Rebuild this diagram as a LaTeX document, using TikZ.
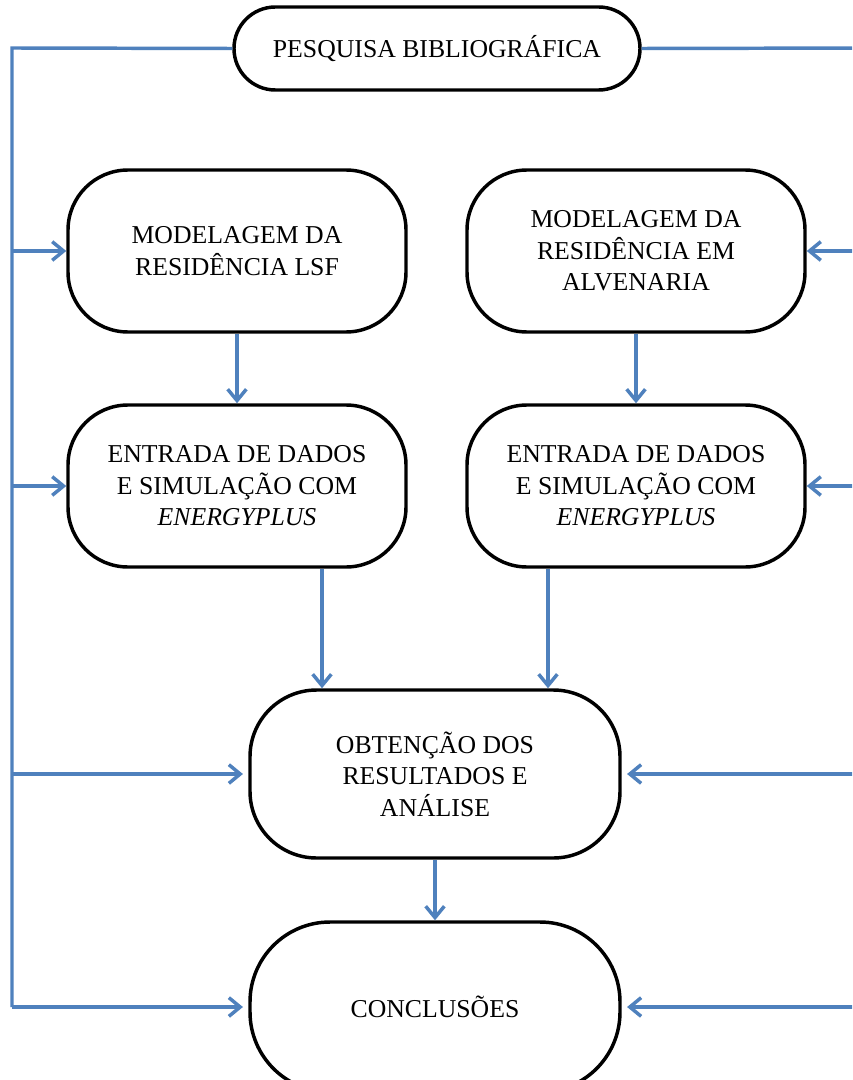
\documentclass[tikz,border=0pt]{standalone}
\usepackage{fontspec}
\setmainfont{Liberation Serif}
\usetikzlibrary{arrows.meta,calc}
\definecolor{flow}{RGB}{79,129,189}
\tikzset{
  box/.style={draw=black, line width=2.6pt, fill=white, align=center,
    font=\fontsize{19.3}{23.6}\selectfont, inner sep=0pt},
  stepbox/.style={box, minimum width=253.5pt, minimum height=121.5pt, rounded corners=45pt},
  bigbox/.style={box, minimum width=277.5pt, minimum height=126pt, rounded corners=50pt},
  endbox/.style={box, minimum width=277.5pt, minimum height=127.5pt, rounded corners=60pt},
  topbox/.style={box, minimum width=304.5pt, minimum height=62.25pt, rounded corners=31pt},
  link/.style={draw=flow, line width=2.6pt},
  arr/.style={link, -{Straight Barb[length=8.5pt,width=14pt]}}
}
\begin{document}
\begin{tikzpicture}[x=0.75pt,y=-0.75pt]
\useasboundingbox (0,0) rectangle (852,1080);
\clip (0,0) rectangle (852,1080);
\fill[white] (0,0) rectangle (852,1080);

\node[topbox] (top) at (437,48.5) {PESQUISA BIBLIOGRÁFICA};
\node[stepbox] (b1) at (237,251) {MODELAGEM DA\\RESIDÊNCIA LSF};
\node[stepbox] (b2) at (636,251) {MODELAGEM DA\\RESIDÊNCIA EM\\ALVENARIA};
\node[stepbox] (b3) at (237,486) {ENTRADA DE DADOS\\E SIMULAÇÃO COM\\\textit{ENERGYPLUS}};
\node[stepbox] (b4) at (636,486) {ENTRADA DE DADOS\\E SIMULAÇÃO COM\\\textit{ENERGYPLUS}};
\node[bigbox] (b5) at (435,774) {OBTENÇÃO DOS\\RESULTADOS E\\ANÁLISE};
\node[endbox] (b6) at (435,1007) {CONCLUSÕES};

\coordinate (L) at (12,48);
\coordinate (R) at (875,48);

% left feedback bus
\draw[link] (top.west) -- (L) -- (L |- b6.west);
\draw[arr] (L |- b1.west) -- (b1.west);
\draw[arr] (L |- b3.west) -- (b3.west);
\draw[arr] (L |- b5.west) -- ([xshift=-4pt]b5.west);
\draw[arr] (L |- b6.west) -- ([xshift=-4pt]b6.west);

% right feedback bus
\draw[link] (top.east) -- (R) -- (R |- b6.east);
\draw[arr] (R |- b2.east) -- (b2.east);
\draw[arr] (R |- b4.east) -- (b4.east);
\draw[arr] (R |- b5.east) -- ([xshift=4pt]b5.east);
\draw[arr] (R |- b6.east) -- ([xshift=4pt]b6.east);

% main flow
\draw[arr] (b1.south) -- (b3.north);
\draw[arr] (b2.south) -- (b4.north);
\draw[arr] ($(b3.south)+(85,0)$) -- ($(b5.north)+(-113,0)$);
\draw[arr] ($(b4.south)+(-88,0)$) -- ($(b5.north)+(113,0)$);
\draw[arr] (b5.south) -- (b6.north);
\end{tikzpicture}
\end{document}
